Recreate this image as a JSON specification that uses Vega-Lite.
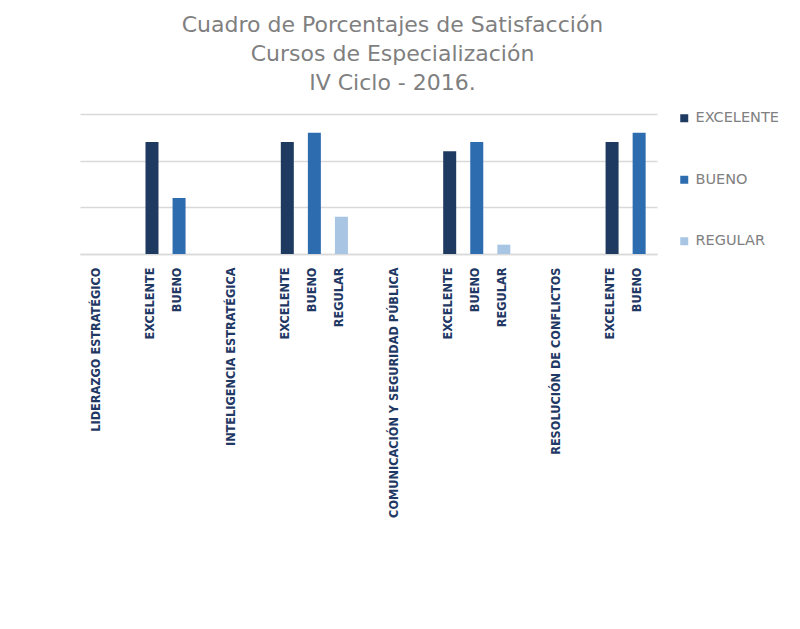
{
  "$schema": "https://vega.github.io/schema/vega-lite/v6.json",
  "width": 577,
  "height": 140,
  "padding": {"left": 80, "top": 14, "right": 5, "bottom": 5},
  "background": "white",
  "title": {
    "text": ["Cuadro de Porcentajes de Satisfacción", "Cursos de Especialización", "IV Ciclo - 2016."],
    "font": "DejaVu Sans",
    "fontSize": 22,
    "fontWeight": "normal",
    "lineHeight": 29,
    "color": "#7f7f7f",
    "anchor": "middle",
    "dx": 24,
    "offset": 16
  },
  "data": {
    "values": [
      {"slot": "1|EXCELENTE", "nivel": "EXCELENTE", "valor": 12},
      {"slot": "1|BUENO", "nivel": "BUENO", "valor": 6},
      {"slot": "2|EXCELENTE", "nivel": "EXCELENTE", "valor": 12},
      {"slot": "2|BUENO", "nivel": "BUENO", "valor": 13},
      {"slot": "2|REGULAR", "nivel": "REGULAR", "valor": 4},
      {"slot": "3|EXCELENTE", "nivel": "EXCELENTE", "valor": 11},
      {"slot": "3|BUENO", "nivel": "BUENO", "valor": 12},
      {"slot": "3|REGULAR", "nivel": "REGULAR", "valor": 1},
      {"slot": "4|EXCELENTE", "nivel": "EXCELENTE", "valor": 12},
      {"slot": "4|BUENO", "nivel": "BUENO", "valor": 13}
    ]
  },
  "mark": {"type": "bar", "size": 13},
  "encoding": {
    "x": {
      "field": "slot",
      "type": "nominal",
      "sort": null,
      "scale": {
        "domain": ["1|LIDERAZGO ESTRATÉGICO", "1|gapa", "1|EXCELENTE", "1|BUENO", "1|gapb",
                   "2|INTELIGENCIA ESTRATÉGICA", "2|gapa", "2|EXCELENTE", "2|BUENO", "2|REGULAR", "2|gapb",
                   "3|COMUNICACIÓN Y SEGURIDAD PÚBLICA", "3|gapa", "3|EXCELENTE", "3|BUENO", "3|REGULAR", "3|gapb",
                   "4|RESOLUCIÓN DE CONFLICTOS", "4|gapa", "4|EXCELENTE", "4|BUENO"],
        "paddingInner": 0,
        "paddingOuter": 0.16
      },
      "axis": {
        "title": null,
        "labelExpr": "indexof(datum.value, 'gap') >= 0 ? '' : split(datum.value, '|')[1]",
        "labelAngle": -90,
        "labelFont": "DejaVu Sans Condensed, Roboto",
        "labelFontWeight": "bold",
        "labelFontSize": 12.6,
        "labelColor": "#1f3864",
        "labelPadding": 13,
        "labelLimit": 400,
        "labelOffset": -2,
        "labelOverlap": false,
        "ticks": false,
        "domainColor": "#d9d9d9",
        "domainWidth": 1.5
      }
    },
    "y": {
      "field": "valor",
      "type": "quantitative",
      "scale": {"domain": [0, 15]},
      "axis": {
        "title": null,
        "labels": false,
        "ticks": false,
        "domain": false,
        "values": [0, 5, 10, 15],
        "grid": true,
        "gridColor": "#d9d9d9",
        "gridWidth": 1.5
      }
    },
    "color": {
      "field": "nivel",
      "type": "nominal",
      "scale": {
        "domain": ["EXCELENTE", "BUENO", "REGULAR"],
        "range": ["#1f3a60", "#2e6cb0", "#a8c6e4"]
      },
      "legend": {
        "title": null,
        "orient": "none",
        "legendX": 597,
        "legendY": -3,
        "symbolType": "square",
        "symbolSize": 64,
        "symbolStrokeWidth": 0,
        "labelFont": "DejaVu Sans",
        "labelFontSize": 14.5,
        "labelColor": "#808080",
        "labelOffset": 4,
        "rowPadding": 46.5
      }
    }
  },
  "config": {"view": {"stroke": null}}
}
